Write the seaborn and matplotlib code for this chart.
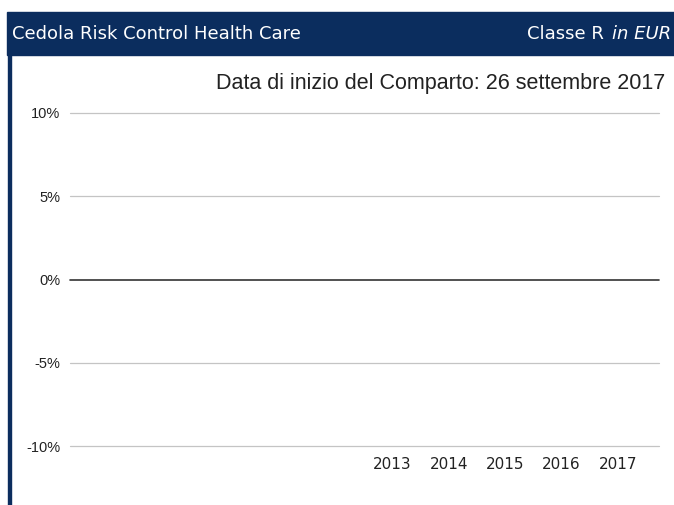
import matplotlib
matplotlib.use('Agg')
import matplotlib.pyplot as plt
import seaborn as sns
import pandas as pd
import numpy as np

NAVY = '#0b2d5e'

years = ['2008', '2009', '2010', '2011', '2012', '2013', '2014', '2015', '2016', '2017']
year_labels = ['', '', '', '', '', '2013', '2014', '2015', '2016', '2017']
returns = [np.nan] * 10  # fondo avviato nel 2017: nessun rendimento annuale
y_ticks = [-10, -5, 0, 5, 10]
y_labels = ['-10%', '-5%', '0%', '5%', '10%']

df = pd.DataFrame({'anno': years, 'rendimento': returns})

sns.set_style('white')
fig = plt.figure(figsize=(6.74, 5.05), dpi=100)
W, H = 674, 505
ax = fig.add_axes([70 / W, (H - 446) / H, (659 - 70) / W, (446 - 113) / H])

sns.barplot(data=df, x='anno', y='rendimento', color=NAVY, ax=ax)

ax.set_xlim(-0.73, 9.73)
ax.set_ylim(-10, 10)
ax.set_yticks(y_ticks)
ax.set_yticklabels(y_labels, family='Liberation Sans', fontsize=10.5, color='#222222')
ax.set_xticks(range(len(years)))
ax.set_xticklabels(year_labels, family='DejaVu Sans', fontsize=11, color='#222222')
ax.tick_params(axis='both', length=0)
ax.tick_params(axis='y', pad=7)
ax.tick_params(axis='x', pad=8)
for s in ax.spines.values():
    s.set_visible(False)
for t in y_ticks:
    ax.axhline(t, color='#333333' if t == 0 else '#c4c4c4', lw=1.2 if t == 0 else 0.9,
               zorder=0, clip_on=False)
ax.set_xlabel('')
ax.set_ylabel('')

# intestazione
fig.patches.append(plt.Rectangle((7 / W, (H - 55) / H), 1 - 7 / W, 43 / H,
                                 transform=fig.transFigure, color=NAVY, zorder=0))
fig.patches.append(plt.Rectangle((8 / W, 0), 3 / W, (H - 55) / H,
                                 transform=fig.transFigure, color=NAVY, zorder=0))
fig.text(12 / W, (H - 34) / H, 'Cedola Risk Control Health Care', color='white',
         family='DejaVu Sans', fontsize=13, va='center', ha='left')
fig.text(671 / W, (H - 34) / H, 'in EUR', color='white', style='italic',
         family='DejaVu Sans', fontsize=13, va='center', ha='right')
fig.text(604 / W, (H - 34) / H, 'Classe R', color='white',
         family='DejaVu Sans', fontsize=13, va='center', ha='right')
fig.text(665 / W, (H - 83) / H, 'Data di inizio del Comparto: 26 settembre 2017',
         family='Liberation Sans', fontsize=15.5, color='#222222', va='center', ha='right')

plt.savefig('out.png', dpi=100)
